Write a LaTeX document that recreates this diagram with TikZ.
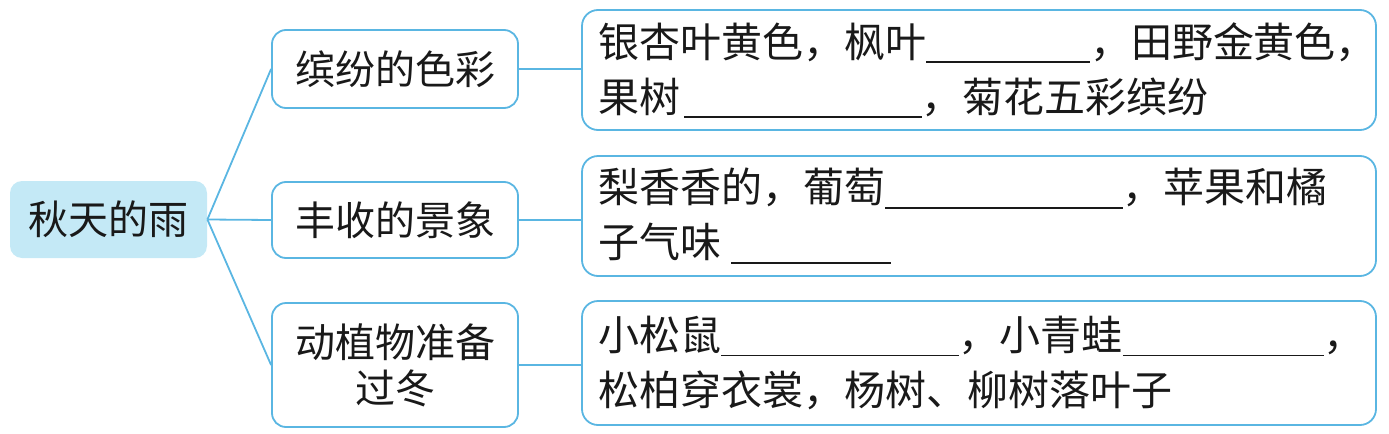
\documentclass[tikz,border=0pt]{standalone}
\usepackage{fontspec}
\newfontfamily\cjk{Noto Sans CJK SC}
\newcommand{\blankline}[1]{\rule[-0.14em]{#1em}{0.7pt}}
\definecolor{lineblue}{HTML}{5AB6E2}
\definecolor{rootfill}{HTML}{C4E9F6}
\begin{document}
\begin{tikzpicture}[x=0.5pt,y=-0.5pt,
  every node/.style={font=\cjk\fontsize{20}{27}\selectfont, text=black!90},
  rootbox/.style={fill=rootfill, rounded corners=6pt, minimum width=98.5pt, minimum height=38.5pt, inner sep=0pt},
  midbox/.style={draw=lineblue, line width=0.9pt, rounded corners=7pt, minimum width=123pt, inner sep=0pt, align=center},
  detailbox/.style={draw=lineblue, line width=0.9pt, rounded corners=8pt, text width=381pt, inner xsep=8pt, inner ysep=0pt, minimum height=60pt, align=left, font=\cjk\fontsize{20.5}{27.5}\selectfont},
  link/.style={draw=lineblue, line width=0.9pt}]
\useasboundingbox (0,0) rectangle (1389,434);
\node[rootbox] (root) at (108.5,219.5) {秋天的雨};
\node[midbox, minimum height=39pt] (m1) at (395,69) {缤纷的色彩};
\node[midbox, minimum height=38pt] (m2) at (395,220) {丰收的景象};
\node[midbox, minimum height=62pt, font=\cjk\fontsize{20}{23}\selectfont] (m3) at (395,365) {动植物准备\\过冬};
\node[detailbox] (d1) at (979,70) {银杏叶黄色，枫叶\blankline{4}，田野金黄色，\\果树\hspace{0.1em}\blankline{5.8}，菊花五彩缤纷};
\node[detailbox] (d2) at (979,216) {梨香香的，葡萄\blankline{5.8}，苹果和橘\\子气味\hspace{0.25em}\blankline{3.9}};
\node[detailbox, minimum height=62pt] (d3) at (979,363) {小松鼠\blankline{5.8}，小青蛙\blankline{4.9}，\\松柏穿衣裳，杨树、柳树落叶子};
\draw[link] (root.east) -- (m1.west);
\draw[link] (root.east) -- (m2.west);
\draw[link] (root.east) -- (m3.west);
\draw[link] (m1.east) -- (d1.west |- m1.east);
\draw[link] (m2.east) -- (d2.west |- m2.east);
\draw[link] (m3.east) -- (d3.west |- m3.east);
\end{tikzpicture}
\end{document}
